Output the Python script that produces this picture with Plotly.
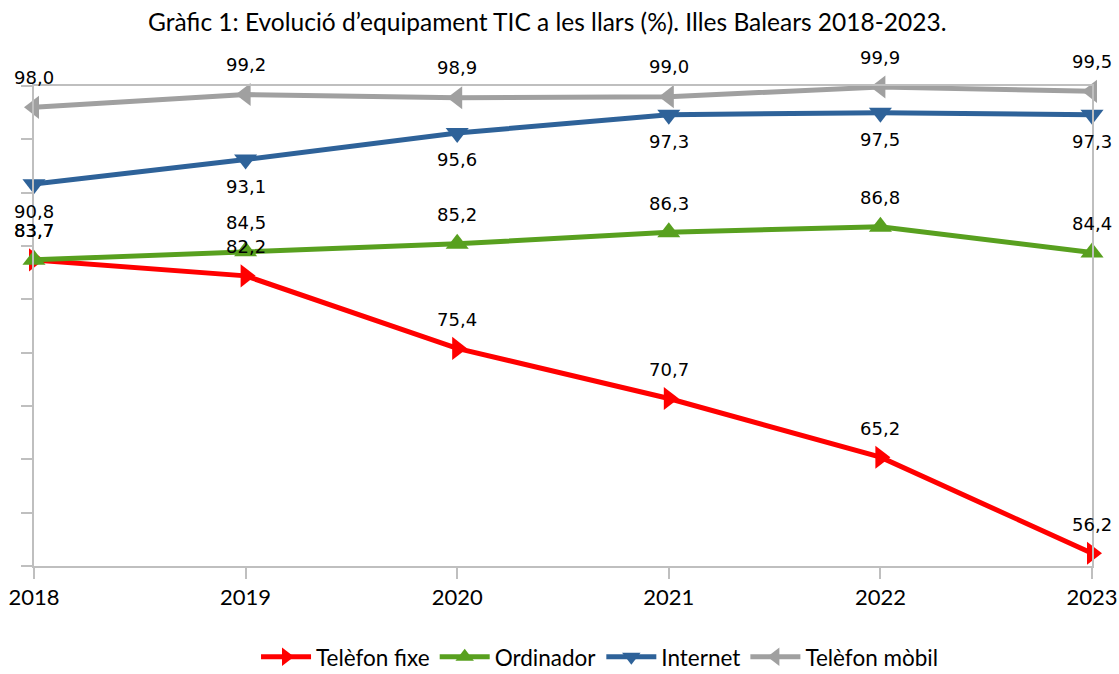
import plotly.graph_objects as go

years = [2018, 2019, 2020, 2021, 2022, 2023]
telefon_fixe = [83.7, 82.2, 75.4, 70.7, 65.2, 56.2]
ordinador = [83.7, 84.5, 85.2, 86.3, 86.8, 84.4]
internet = [90.8, 93.1, 95.6, 97.3, 97.5, 97.3]
telefon_mobil = [98.0, 99.2, 98.9, 99.0, 99.9, 99.5]

series = [
    ("Telèfon fixe", telefon_fixe, "#FF0000", "triangle-right", 29),
    ("Ordinador", ordinador, "#58A01F", "triangle-up", 29),
    ("Internet", internet, "#2E6299", "triangle-down", -27),
    ("Telèfon mòbil", telefon_mobil, "#A0A0A0", "triangle-left", 30),
]

fig = go.Figure()
annotations = []
for name, vals, color, sym, shift in series:
    fig.add_trace(go.Scatter(
        x=years, y=vals, name=name, mode="lines+markers",
        line=dict(color=color, width=5),
        marker=dict(symbol=sym, size=20, color=color),
        cliponaxis=False,
    ))
    for x, v in zip(years, vals):
        annotations.append(dict(
            x=x, y=v, text=f"{v:.1f}".replace(".", ","), showarrow=False,
            yshift=shift, font=dict(family="DejaVu Sans", size=18, color="#000000"),
        ))

axis_col = "#BFBFBF"
fig.update_layout(
    width=1119, height=674,
    paper_bgcolor="white", plot_bgcolor="white",
    margin=dict(l=34, r=27, t=86, b=108, autoexpand=False),
    title=dict(text="Gràfic 1: Evolució d’equipament TIC a les llars (%). Illes Balears 2018-2023.",
               x=0.489, xanchor="center", y=0.967, yanchor="middle",
               font=dict(family="Lato", size=24.5, color="#000000")),
    annotations=annotations,
    showlegend=True,
    legend=dict(orientation="h", x=0.535, xanchor="center", y=-0.19, yanchor="middle",
                font=dict(family="Lato", size=22.5, color="#000000"),
                itemwidth=50, traceorder="normal"),
    xaxis=dict(range=[2018, 2023], tickvals=years, ticktext=[str(y) for y in years],
               showgrid=False, zeroline=False, showline=True, linecolor=axis_col, linewidth=2,
               mirror=True, ticks="outside", ticklen=11, tickcolor=axis_col, tickwidth=2,
               tickfont=dict(family="Lato", size=22, color="#000000")),
    yaxis=dict(range=[55, 100], dtick=5, showticklabels=False,
               showgrid=False, zeroline=False, showline=True, linecolor=axis_col, linewidth=2,
               mirror=True, ticks="outside", ticklen=11, tickcolor=axis_col, tickwidth=2),
)

fig.write_html("out.html", config={"displayModeBar": False},
               post_script="document.body.style.margin='0';document.body.style.overflow='hidden';")
